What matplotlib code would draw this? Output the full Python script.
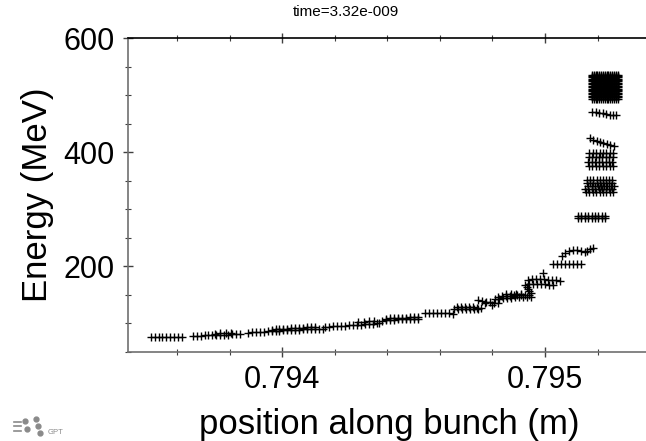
import matplotlib
matplotlib.use("Agg")
import matplotlib.pyplot as plt
from matplotlib.ticker import MultipleLocator
from matplotlib.lines import Line2D
import numpy as np

plt.rcParams["font.family"] = ["Liberation Sans", "DejaVu Sans"]

# low energy tail of the bunch
tail_x = [0.793500, 0.793515, 0.793530, 0.793545, 0.793560, 0.793575, 0.793590, 0.793605, 0.793620,
          0.793660, 0.793675, 0.793690, 0.793705, 0.793720, 0.793735, 0.793750, 0.793765, 0.793780,
          0.793795, 0.793810, 0.793825, 0.793840, 0.793745, 0.793765, 0.793785, 0.793805,
          0.793870, 0.793885, 0.793900, 0.793915, 0.793930, 0.793945, 0.793960, 0.793975, 0.793990,
          0.794005, 0.794020, 0.794035, 0.794050, 0.794065, 0.794080, 0.794095, 0.794110, 0.794125,
          0.794140, 0.794155,
          0.793960, 0.793975, 0.793990, 0.794005, 0.794020, 0.794035, 0.794050, 0.794065, 0.794080,
          0.794095, 0.794110, 0.794125,
          0.794165, 0.794180, 0.794195, 0.794210, 0.794225, 0.794240, 0.794255, 0.794270, 0.794285,
          0.794300, 0.794315, 0.794330, 0.794345, 0.794360,
          0.794290, 0.794310, 0.794330, 0.794350, 0.794370,
          0.794380, 0.794395, 0.794410, 0.794425, 0.794440, 0.794455, 0.794470, 0.794485, 0.794500, 0.794515,
          0.794395, 0.794410, 0.794425, 0.794440, 0.794455, 0.794470, 0.794485, 0.794500, 0.794515]
tail_y = [76, 76, 76.5, 76, 76, 76.5, 76, 76, 76.5,
          78, 78, 78.5, 79, 79, 79.5, 80, 80, 80.5,
          80.5, 81, 81, 81, 82, 82.5, 83, 82.5,
          84, 84.5, 85, 85, 85.5, 86, 86.5, 87, 87.5,
          88, 88, 88.5, 89, 89, 89.5, 90, 90, 90.5,
          91, 91,
          89, 89.5, 90, 90.5, 91, 91.5, 92, 92, 92.5,
          93, 93, 93,
          94, 94.5, 95, 95.5, 96, 96, 96.5, 97, 97.5,
          98, 98.5, 99, 99.5, 100,
          103, 103, 104, 104, 101,
          105, 105.5, 106, 106.5, 107, 107, 107.5, 108, 108, 108.5,
          108.5, 109, 109, 109.5, 110, 110, 110.5, 111, 111]

# middle part
mid_x = [0.794545, 0.794560, 0.794575, 0.794590, 0.794605, 0.794620, 0.794635, 0.794650,
         0.794655, 0.794670, 0.794685, 0.794700, 0.794715, 0.794730, 0.794745,
         0.794665, 0.794680, 0.794695, 0.794710, 0.794725, 0.794740, 0.794755,
         0.794745, 0.794760, 0.794775, 0.794790, 0.794805, 0.794820, 0.794770, 0.794800,
         0.794810, 0.794825, 0.794840, 0.794855, 0.794870, 0.794885, 0.794900, 0.794915, 0.794930, 0.794945,
         0.794820, 0.794835, 0.794850, 0.794865, 0.794880, 0.794895, 0.794910, 0.794925, 0.794940,
         0.794850, 0.794870, 0.794890, 0.794910,
         0.794935, 0.794950, 0.794965, 0.794980, 0.794995, 0.795010, 0.795025, 0.795040, 0.795055,
         0.794925, 0.794940, 0.794955, 0.794970, 0.794985, 0.795000, 0.795015, 0.795030,
         0.794930, 0.794935, 0.794940, 0.794945, 0.794992,
         0.795030, 0.795045, 0.795060, 0.795075, 0.795090, 0.795105, 0.795120, 0.795135,
         0.795065, 0.795075, 0.795090, 0.795105, 0.795120, 0.795135, 0.795150, 0.795160, 0.795170, 0.795182]
mid_y = [119, 118.5, 118.5, 118, 118, 117.5, 117.5, 117,
         125, 125, 125.5, 125.5, 126, 126, 126,
         128, 128, 128.5, 128.5, 128, 127.5, 127.5,
         141, 139, 138, 137, 136, 135, 136, 133,
         143, 143.5, 144, 144.5, 145, 145.5, 146, 146.5, 147, 147,
         147, 147.5, 148, 148.5, 149, 149, 149.5, 150, 150,
         151, 152, 152, 152,
         176, 177, 177, 177.5, 177, 176.5, 176, 176, 175,
         168, 168.5, 169, 169.5, 169, 168.5, 168, 168,
         163, 160, 157, 154, 188,
         204, 203.5, 204, 204.5, 204, 203.5, 204, 204,
         219, 224, 227, 229, 228, 227, 226, 227, 230, 233]

# high energy head
head_x = [0.795125, 0.795138, 0.795151, 0.795164, 0.795177, 0.795190, 0.795203, 0.795216, 0.795229,
          0.795125, 0.795138, 0.795151, 0.795164, 0.795177, 0.795190, 0.795203, 0.795216, 0.795229,
          0.795160, 0.795172, 0.795184, 0.795196, 0.795208, 0.795220, 0.795232, 0.795244, 0.795256,
          0.795160, 0.795172, 0.795184, 0.795196, 0.795208, 0.795220, 0.795232, 0.795244, 0.795256,
          0.795165, 0.795177, 0.795189, 0.795201, 0.795213, 0.795225, 0.795237, 0.795249, 0.795261,
          0.795152, 0.795165, 0.795178, 0.795191, 0.795204, 0.795217, 0.795230, 0.795243, 0.795256,
          0.795155, 0.795168, 0.795181, 0.795194, 0.795207, 0.795220, 0.795233, 0.795246, 0.795259,
          0.795168, 0.795181, 0.795194, 0.795207, 0.795220, 0.795233, 0.795246, 0.795259,
          0.795166, 0.795179, 0.795192, 0.795205, 0.795218, 0.795231, 0.795244, 0.795257,
          0.795165, 0.795178, 0.795191, 0.795204, 0.795217, 0.795230, 0.795243, 0.795256,
          0.795167, 0.795180, 0.795193, 0.795206, 0.795219, 0.795232, 0.795245, 0.795258,
          0.795170, 0.795183, 0.795196, 0.795209, 0.795222, 0.795235, 0.795248, 0.795261,
          0.795180, 0.795193, 0.795206, 0.795219, 0.795232, 0.795245, 0.795258, 0.795271]
head_y = [284.5] * 9 + [287.5] * 9 + [351] * 9 + [346] * 9 + [341] * 9 + [335] * 9 + [330] * 9 \
    + [398] * 8 + [391] * 8 + [383] * 8 + [375] * 8 \
    + [425, 422, 420, 418, 416, 414, 412, 410] \
    + [471, 470, 469, 468, 467, 466, 466, 465]

# dense block at the bunch head
block_x = [0.795178, 0.795185, 0.795192, 0.795199, 0.795206, 0.795213, 0.795220, 0.795227,
           0.795234, 0.795241, 0.795248, 0.795255, 0.795262, 0.795269, 0.795277]
block_y = [494, 496.5, 499, 501.5, 504, 506.5, 509, 511.5, 514, 516.5, 519, 521.5, 524,
           526.5, 529, 531.5, 534, 536]

bx, by = np.meshgrid(block_x, block_y)
xs = np.concatenate([tail_x, mid_x, head_x, bx.ravel()])
ys = np.concatenate([tail_y, mid_y, head_y, by.ravel()])

fig = plt.figure(figsize=(6.46, 4.41), dpi=100)
ax = fig.add_axes([128 / 646, 89 / 441, 522 / 646, 314 / 441])

ax.plot(xs, ys, linestyle="none", marker="+", color="black", markersize=5.5, markeredgewidth=1.0)

ax.set_xlim(0.793414, 0.795399)
ax.set_ylim(50, 600)
ax.xaxis.set_major_locator(MultipleLocator(0.001))
ax.xaxis.set_minor_locator(MultipleLocator(0.0002))
ax.yaxis.set_major_locator(MultipleLocator(200))
ax.yaxis.set_minor_locator(MultipleLocator(50))
ax.xaxis.set_major_formatter(plt.FormatStrFormatter("%.3f"))

ax.spines["right"].set_visible(False)
ax.spines["left"].set_color("#707070")
ax.spines["bottom"].set_color("#707070")
ax.spines["top"].set_color("black")
for s in ax.spines.values():
    s.set_linewidth(1.2)

ax.tick_params(which="both", direction="inout", top=True, right=False, labelsize=22,
               colors="#404040", labelcolor="black")
ax.tick_params(which="major", length=7.2, width=1.0, pad=6)
ax.tick_params(which="minor", length=4, width=0.8)

ax.set_xlabel("position along bunch (m)", fontsize=25, labelpad=9)
ax.set_ylabel("Energy (MeV)", fontsize=25, labelpad=7)

fig.text(346 / 646, 1 - 12 / 441, "time=3.32e-009", fontsize=11, ha="center", va="center")

# small GPT logo at the lower left
for yy in (422, 426, 431):
    fig.add_artist(Line2D([14 / 646, 21 / 646], [1 - yy / 441, 1 - yy / 441], color="#8a8a8a", lw=1.2))
for px, py in ((25, 421), (36, 419), (27, 429), (38, 426), (40, 433)):
    fig.add_artist(Line2D([px / 646], [1 - py / 441], marker="o", markersize=3.5, color="#8a8a8a",
                          linestyle="none"))
fig.text(48 / 646, 1 - 433 / 441, "GPT", fontsize=5.5, color="#8a8a8a", va="center")

fig.savefig("out.png", dpi=100)
